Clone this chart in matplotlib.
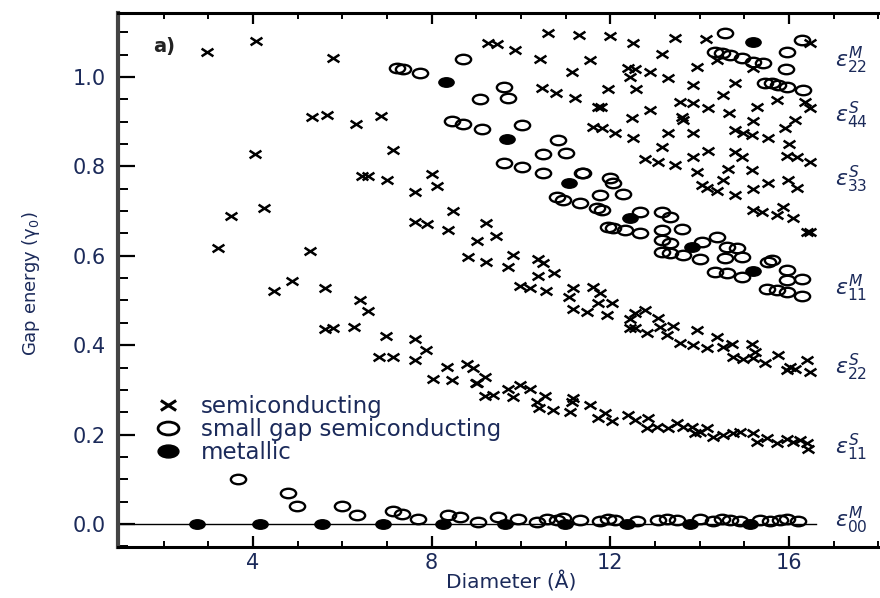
import matplotlib
matplotlib.use("Agg")
import matplotlib.pyplot as plt
import numpy as np
from matplotlib.path import Path
from matplotlib.transforms import Affine2D
from matplotlib.lines import Line2D
from matplotlib.ticker import MultipleLocator

plt.rcParams['mathtext.fontset'] = 'dejavusans'

NAVY = "#1b2a5a"

# semiconducting tubes (diameter in A, gap in gamma0)
semi = np.array([
    (2.97, 1.056), (4.07, 1.081), (4.04, 0.828), (3.22, 0.617), (3.51, 0.689), (4.25, 0.707),
    (4.47, 0.521), (4.87, 0.544), (5.79, 1.042), (5.32, 0.911), (5.66, 0.915), (6.31, 0.895),
    (6.87, 0.913), (7.13, 0.837), (9.26, 1.076), (9.46, 1.074), (9.87, 1.06), (10.6, 1.098),
    (11.3, 1.094), (10.43, 1.04), (11.55, 1.038), (11.14, 1.011), (10.47, 0.975), (10.78, 0.964),
    (11.21, 0.953), (11.72, 0.933), (11.61, 0.888), (6.44, 0.778), (6.58, 0.778), (7.0, 0.77),
    (8.01, 0.783), (8.12, 0.756), (7.63, 0.743),
    (8.48, 0.700), (7.63, 0.676), (7.9, 0.671), (8.37, 0.658), (9.22, 0.673), (9.02, 0.633),
    (9.44, 0.644), (5.28, 0.611), (8.82, 0.597), (9.22, 0.586), (9.83, 0.602), (9.71, 0.575),
    (10.38, 0.593), (10.49, 0.584), (10.38, 0.555), (10.74, 0.561), (9.98, 0.532), (10.2, 0.528),
    (10.56, 0.521), (11.16, 0.528), (11.07, 0.508), (11.61, 0.530), (11.16, 0.481), (11.48, 0.474),
    (5.61, 0.528), (6.4, 0.501), (6.58, 0.477), (5.61, 0.436), (5.79, 0.438), (6.26, 0.441),
    (6.98, 0.421), (7.63, 0.414), (7.87, 0.389), (6.82, 0.374), (7.13, 0.374), (7.63, 0.367),
    (8.34, 0.351), (8.79, 0.358), (8.93, 0.349), (8.03, 0.324), (8.46, 0.322), (9.19, 0.329),
    (8.99, 0.315), (9.71, 0.302), (9.98, 0.311), (10.2, 0.302), (9.19, 0.286), (9.37, 0.289),
    (9.83, 0.284), (10.54, 0.286), (11.16, 0.282), (9.02, 0.315), (10.36, 0.273), (10.4, 0.259),
    (10.72, 0.255), (11.14, 0.273), (11.1, 0.251),
    (11.55, 0.266), (11.72, 0.237), (12.04, 0.230), (11.88, 0.248), (12.4, 0.244), (12.55, 0.233),
    (12.84, 0.237), (12.82, 0.215), (13.04, 0.217), (13.29, 0.215), (13.49, 0.226), (13.63, 0.217),
    (13.83, 0.217), (13.9, 0.204), (14.0, 0.206), (14.16, 0.215), (14.3, 0.195), (14.52, 0.199),
    (14.75, 0.204), (14.9, 0.206), (15.2, 0.204), (15.28, 0.183), (15.5, 0.192), (15.73, 0.181),
    (15.96, 0.190), (16.1, 0.183), (16.25, 0.188), (16.4, 0.181), (16.43, 0.168),
    (12.0, 1.092), (12.51, 1.076), (13.46, 1.087), (14.14, 1.085), (16.47, 1.076), (13.16, 1.051),
    (14.39, 1.038), (15.2, 1.02), (12.4, 1.02), (12.55, 1.018), (12.44, 1.0), (12.89, 1.011),
    (13.29, 0.998), (13.94, 1.022), (13.85, 0.982), (14.79, 0.987), (14.52, 0.96), (11.95, 0.973),
    (12.58, 0.973), (15.73, 0.949), (16.36, 0.944), (16.47, 0.931), (13.56, 0.944), (13.85, 0.942),
    (11.79, 0.933), (12.89, 0.926), (13.6, 0.911), (13.63, 0.904), (14.19, 0.931), (14.66, 0.919),
    (15.28, 0.933), (16.13, 0.904), (12.49, 0.908), (15.2, 0.902), (11.81, 0.886), (12.1, 0.875),
    (12.51, 0.864), (13.29, 0.875), (13.85, 0.875), (14.79, 0.881), (14.97, 0.875), (15.17, 0.870),
    (15.53, 0.864), (15.91, 0.886), (16.0, 0.850), (13.16, 0.843), (12.78, 0.817), (13.07, 0.81),
    (13.45, 0.803), (13.85, 0.821), (14.19, 0.834), (14.79, 0.832), (14.95, 0.821), (15.96, 0.823),
    (16.18, 0.821), (16.47, 0.81), (13.94, 0.788), (14.63, 0.794), (15.17, 0.792), (14.52, 0.770),
    (14.05, 0.758), (14.16, 0.752), (14.39, 0.745), (15.53, 0.763), (15.2, 0.749), (15.98, 0.770),
    (16.18, 0.752), (14.79, 0.736),
    (15.2, 0.702), (15.4, 0.698), (15.87, 0.709), (15.73, 0.691), (16.09, 0.685), (16.4, 0.653),
    (16.47, 0.653), (11.77, 0.517), (11.72, 0.494), (12.04, 0.494), (11.93, 0.468), (12.55, 0.472),
    (12.78, 0.479), (13.07, 0.461), (12.44, 0.459), (12.44, 0.438), (12.55, 0.438), (12.82, 0.427),
    (13.11, 0.441), (13.4, 0.443), (13.27, 0.423), (13.56, 0.405), (13.85, 0.400), (13.94, 0.434),
    (14.16, 0.394), (14.39, 0.418), (14.52, 0.396), (14.73, 0.403), (14.75, 0.374), (14.97, 0.369),
    (15.17, 0.403), (15.24, 0.385), (15.2, 0.371), (15.46, 0.360), (15.75, 0.378), (16.02, 0.351),
    (15.96, 0.345), (16.13, 0.347), (16.4, 0.367), (16.47, 0.340),
])

# small gap semiconducting tubes
small = np.array([
    (3.66, 0.10), (4.78, 0.069), (4.99, 0.04), (6.0, 0.04), (6.33, 0.02), (7.13, 0.03),
    (7.33, 0.022), (7.7, 0.011), (8.37, 0.02), (8.64, 0.015), (9.04, 0.005), (9.49, 0.016),
    (9.93, 0.011), (10.36, 0.005), (10.58, 0.012), (10.8, 0.008), (10.94, 0.013), (11.32, 0.008),
    (11.77, 0.006), (11.95, 0.012), (12.1, 0.010), (12.6, 0.007), (13.07, 0.010), (13.27, 0.012),
    (13.5, 0.008), (14.0, 0.011), (14.3, 0.006), (14.5, 0.012), (14.68, 0.009), (14.9, 0.007),
    (15.35, 0.010), (15.57, 0.006), (15.8, 0.009), (15.95, 0.011), (16.2, 0.006),
    (7.22, 1.02), (7.36, 1.018), (7.74, 1.009), (8.70, 1.04), (9.62, 0.978), (9.71, 0.953),
    (9.08, 0.951), (8.46, 0.902), (8.70, 0.895), (9.13, 0.884), (10.02, 0.893), (10.83, 0.859),
    (10.49, 0.828), (11.01, 0.830), (9.62, 0.808), (10.02, 0.799), (10.49, 0.785), (11.37, 0.785),
    (10.8, 0.732), (10.94, 0.725), (11.32, 0.718), (11.7, 0.707),
    (14.56, 1.098), (15.96, 1.056), (16.29, 1.083), (14.34, 1.056), (14.5, 1.054), (14.68, 1.049),
    (14.95, 1.042), (15.2, 1.034), (15.42, 1.031), (15.93, 1.018), (15.46, 0.987), (15.62, 0.987),
    (15.75, 0.982), (15.96, 0.978), (16.31, 0.971), (11.39, 0.785), (12.0, 0.774), (12.07, 0.763),
    (11.77, 0.736), (12.28, 0.738),
    (11.81, 0.702), (12.66, 0.698), (13.16, 0.698), (13.34, 0.687), (11.95, 0.664), (12.07, 0.662),
    (12.34, 0.658), (12.66, 0.651), (13.16, 0.658), (13.6, 0.660), (13.16, 0.635), (13.34, 0.629),
    (14.05, 0.631), (14.39, 0.642), (14.61, 0.620), (14.84, 0.617), (13.16, 0.609), (13.34, 0.606),
    (13.63, 0.602), (14.0, 0.593), (14.57, 0.595), (14.95, 0.597), (14.34, 0.564), (14.61, 0.562),
    (14.95, 0.553), (15.53, 0.586), (15.62, 0.591), (15.96, 0.568), (15.96, 0.546), (16.29, 0.548),
    (15.5, 0.526), (15.73, 0.523), (15.96, 0.519), (16.29, 0.510),
])

# metallic tubes
metal = np.array([
    (2.74, 0.0), (4.16, 0.0), (5.55, 0.0), (6.91, 0.0), (8.26, 0.0), (9.64, 0.0),
    (10.99, 0.0), (12.38, 0.0), (13.79, 0.0), (15.13, 0.0),
    (8.32, 0.989), (9.69, 0.861), (11.07, 0.763), (12.44, 0.685), (13.83, 0.620), (15.2, 0.566),
    (15.2, 1.078),
])

zero_line_d = [1.0, 16.6]
zero_line_e = [0.0, 0.0]

band_labels = [r"$\varepsilon_{22}^{M}$", r"$\varepsilon_{44}^{S}$", r"$\varepsilon_{33}^{S}$",
               r"$\varepsilon_{11}^{M}$", r"$\varepsilon_{22}^{S}$", r"$\varepsilon_{11}^{S}$",
               r"$\varepsilon_{00}^{M}$"]
band_label_e = [1.038, 0.915, 0.77, 0.528, 0.351, 0.172, 0.009]

# wide markers (the scan is stretched sideways)
cross = Path([(-1, -0.65), (1, 0.65), (-1, 0.65), (1, -0.65)],
             [Path.MOVETO, Path.LINETO, Path.MOVETO, Path.LINETO])
oval = Path.unit_circle().transformed(Affine2D().scale(1, 0.62))

fig = plt.figure(figsize=(8.8, 5.98), dpi=100)
ax = fig.add_axes([118 / 880, 51 / 598, 762 / 880, 534 / 598])

ax.plot(zero_line_d, zero_line_e, color="black", lw=1.0, zorder=1)
ax.plot(semi[:, 0], semi[:, 1], ls="none", marker=cross, ms=8.5, mec="black", mfc="none", mew=1.8)
ax.plot(small[:, 0], small[:, 1], ls="none", marker=oval, ms=11, mec="black", mfc="none", mew=1.7)
ax.plot(metal[:, 0], metal[:, 1], ls="none", marker=oval, ms=11, mec="black", mfc="black", mew=1.0)

for lab, e in zip(band_labels, band_label_e):
    ax.text(17.03, e, lab, fontsize=16, color=NAVY, va="center", ha="left")

ax.text(2.01, 1.069, "a)", fontsize=14, fontweight="bold", color="#222222", ha="center", va="center")

ax.set_xlim(0.98, 18.04)
ax.set_ylim(-0.0515, 1.143)
ax.xaxis.set_major_locator(MultipleLocator(4))
ax.xaxis.set_minor_locator(MultipleLocator(1))
ax.yaxis.set_major_locator(MultipleLocator(0.2))
ax.yaxis.set_minor_locator(MultipleLocator(0.05))
ax.yaxis.set_major_formatter(matplotlib.ticker.FormatStrFormatter("%.1f"))

ax.tick_params(axis="x", which="major", direction="in", length=8, width=1.6, top=True,
               labelsize=15, labelcolor=NAVY, pad=4)
ax.tick_params(axis="x", which="minor", direction="in", length=4.5, width=1.4, top=True)
ax.tick_params(axis="y", which="major", direction="in", length=12, width=1.6, right=False,
               labelsize=15, labelcolor=NAVY, pad=9)
ax.tick_params(axis="y", which="minor", direction="in", length=7, width=1.4, right=False)

ax.spines["right"].set_visible(False)
ax.spines["left"].set_linewidth(3)
ax.spines["left"].set_color("#444444")
ax.spines["top"].set_linewidth(2.2)
ax.spines["bottom"].set_linewidth(2.2)

ax.set_xlabel("Diameter (Å)", fontsize=14.5, color=NAVY)
ax.xaxis.set_label_coords(0.516, -0.046)
ax.set_ylabel("Gap energy (γ$_0$)", fontsize=13, color=NAVY)
ax.yaxis.set_label_coords(-0.10, 0.494)

handles = [
    Line2D([], [], ls="none", marker=cross, ms=11, mec="black", mfc="none", mew=2.2),
    Line2D([], [], ls="none", marker=oval, ms=15, mec="black", mfc="none", mew=2.0),
    Line2D([], [], ls="none", marker=oval, ms=15, mec="black", mfc="black"),
]
ax.legend(handles, ["semiconducting", "small gap semiconducting", "metallic"],
          loc="upper left", bbox_to_anchor=(0.049, 0.285), frameon=False, fontsize=16.5,
          labelcolor=NAVY, handlelength=1.1, handletextpad=0.9, labelspacing=0.0,
          borderpad=0, borderaxespad=0)

fig.savefig("out.png", dpi=100)
